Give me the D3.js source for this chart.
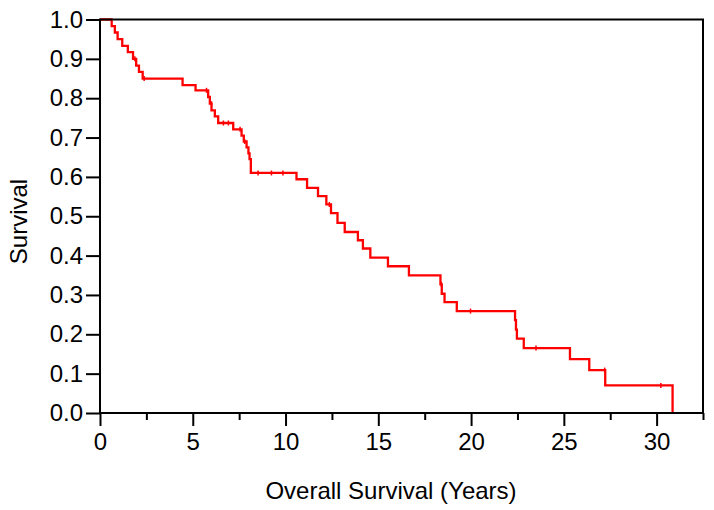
<!DOCTYPE html>
<html>
<head>
<meta charset="utf-8">
<script src="https://cdn.jsdelivr.net/npm/d3@7"></script>
<style>
  html, body { margin: 0; padding: 0; background: #fff; }
  svg { display: block; }
  text { font-family: "Liberation Sans", Arial, sans-serif; fill: #000; }
</style>
</head>
<body>
<svg id="chart" width="714" height="510"></svg>
<script>
// Kaplan-Meier steps: time (years) and survival after each step
const stepTimes = [0, 0.63, 0.80, 0.95, 1.20, 1.50, 1.78, 1.95, 2.10, 2.30, 4.45, 5.15, 5.83, 5.92, 6.01, 6.19, 6.37, 7.18, 7.63, 7.75, 7.90, 8.00, 8.06, 8.13, 10.59, 11.16, 11.75, 12.20, 12.45, 12.80, 13.19, 13.90, 14.17, 14.57, 15.52, 16.65, 18.35, 18.42, 18.57, 19.23, 22.37, 22.42, 22.47, 22.84, 25.33, 26.37, 27.23, 30.86];
const stepSurvival = [1.0, 0.983, 0.967, 0.950, 0.933, 0.917, 0.900, 0.883, 0.867, 0.850, 0.833, 0.820, 0.803, 0.786, 0.769, 0.754, 0.737, 0.721, 0.705, 0.690, 0.675, 0.660, 0.645, 0.610, 0.594, 0.572, 0.551, 0.530, 0.508, 0.483, 0.460, 0.439, 0.418, 0.395, 0.373, 0.350, 0.327, 0.303, 0.282, 0.259, 0.236, 0.212, 0.189, 0.165, 0.137, 0.109, 0.070, 0.0];

// Censored observations
const censorTimes = [1.88, 2.38, 5.74, 6.01, 6.65, 6.92, 7.55, 7.80, 8.52, 9.24, 9.86, 12.36, 18.40, 19.97, 23.50, 27.20, 30.23];
const censorSurvival = [0.900, 0.850, 0.820, 0.786, 0.737, 0.737, 0.721, 0.690, 0.610, 0.610, 0.610, 0.530, 0.327, 0.259, 0.165, 0.109, 0.070];

const xMajorTicks = [0, 5, 10, 15, 20, 25, 30];
const xMinorTicks = [2.5, 7.5, 12.5, 17.5, 22.5, 27.5, 32.5];
const yTicks = [0, 0.1, 0.2, 0.3, 0.4, 0.5, 0.6, 0.7, 0.8, 0.9, 1.0];

const xLabel = "Overall Survival (Years)";
const yLabel = "Survival";

const svg = d3.select("#chart");
const pLeft = 100, pRight = 703, pTop = 19.5, pBottom = 413;

const x = d3.scaleLinear().domain([0, 32.5]).range([pLeft, pRight]);
const y = d3.scaleLinear().domain([0, 1]).range([pBottom, pTop]);

const data = stepTimes.map((t, i) => ({ t, s: stepSurvival[i] }));

// curve
const line = d3.line().x(d => x(d.t)).y(d => y(d.s)).curve(d3.curveStepAfter);
svg.append("path")
  .datum(data)
  .attr("d", line)
  .attr("fill", "none")
  .attr("stroke", "#ff0000")
  .attr("stroke-width", 2.3);

// censor marks
svg.append("g").selectAll("line")
  .data(censorTimes.map((t, i) => ({ t, s: censorSurvival[i] })))
  .join("line")
  .attr("x1", d => x(d.t)).attr("x2", d => x(d.t))
  .attr("y1", d => y(d.s) - 2.5).attr("y2", d => y(d.s) + 2.5)
  .attr("stroke", "#ff0000")
  .attr("stroke-width", 1.5);

// frame
svg.append("rect")
  .attr("x", pLeft).attr("y", pTop)
  .attr("width", pRight - pLeft).attr("height", pBottom - pTop)
  .attr("fill", "none")
  .attr("stroke", "#000")
  .attr("stroke-width", 2);

// y axis
const yAxis = svg.append("g")
  .attr("transform", `translate(${pLeft},0)`)
  .call(d3.axisLeft(y).tickValues(yTicks).tickFormat(d3.format(".1f")).tickSize(14).tickPadding(3));
yAxis.select(".domain").remove();
yAxis.selectAll(".tick line").attr("stroke", "#000").attr("stroke-width", 2);
yAxis.selectAll(".tick text").style("font-size", "24px").attr("fill", "#000");

// x axis major
const xAxis = svg.append("g")
  .attr("transform", `translate(0,${pBottom})`)
  .call(d3.axisBottom(x).tickValues(xMajorTicks).tickFormat(d3.format("d")).tickSize(13).tickPadding(7));
xAxis.select(".domain").remove();
xAxis.selectAll(".tick line").attr("stroke", "#000").attr("stroke-width", 2);
xAxis.selectAll(".tick text").style("font-size", "24px").attr("fill", "#000");

// x axis minor
const xMinor = svg.append("g")
  .attr("transform", `translate(0,${pBottom})`)
  .call(d3.axisBottom(x).tickValues(xMinorTicks).tickFormat("").tickSize(7));
xMinor.select(".domain").remove();
xMinor.selectAll(".tick line").attr("stroke", "#000").attr("stroke-width", 2);

// labels
svg.append("text")
  .attr("x", 391).attr("y", 499)
  .attr("text-anchor", "middle")
  .style("font-size", "24px")
  .text(xLabel);

svg.append("text")
  .attr("transform", "translate(27,221.5) rotate(-90)")
  .attr("text-anchor", "middle")
  .style("font-size", "24px")
  .text(yLabel);
</script>
</body>
</html>
